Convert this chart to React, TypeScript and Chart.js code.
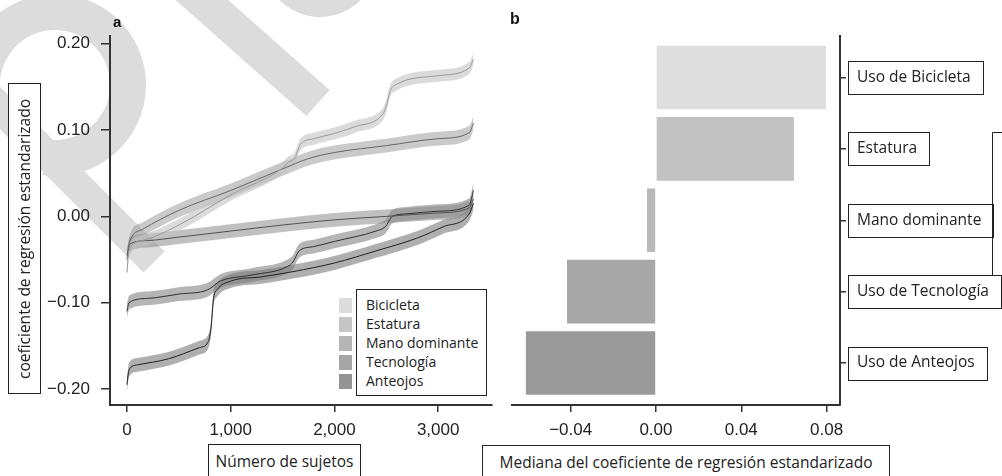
import React, { useEffect, useRef } from "react";
import { Chart, registerables } from "chart.js";

Chart.register(...registerables);

// ---------------- Panel a data ----------------
const seriesNames = ["Bicicleta", "Estatura", "Mano dominante", "Tecnología", "Anteojos"];

const subjBicicleta = [0, 20, 150, 500, 1000, 1500, 1550, 1620, 1670, 1800, 2000, 2200, 2450, 2490, 2540, 2600, 3000, 3300, 3340];
const coefBicicleta = [-0.065, -0.04, -0.028, -0.01, 0.025, 0.056, 0.062, 0.068, 0.083, 0.09, 0.096, 0.104, 0.116, 0.124, 0.146, 0.153, 0.163, 0.172, 0.182];

const subjEstatura = [0, 25, 150, 500, 1000, 1500, 1750, 2000, 2500, 3000, 3300, 3340];
const coefEstatura = [-0.05, -0.03, -0.015, 0.007, 0.03, 0.055, 0.067, 0.074, 0.082, 0.09, 0.097, 0.108];

const subjMano = [0, 30, 200, 500, 1000, 1500, 2000, 2500, 3000, 3300, 3340];
const coefMano = [-0.045, -0.032, -0.028, -0.024, -0.017, -0.01, -0.004, 0.0, 0.004, 0.01, 0.02];

const subjTecnologia = [0, 20, 200, 500, 780, 900, 1200, 1550, 1600, 1660, 1800, 2000, 2400, 2490, 2560, 2700, 3000, 3300, 3340];
const coefTecnologia = [-0.11, -0.1, -0.095, -0.09, -0.085, -0.075, -0.068, -0.058, -0.053, -0.04, -0.035, -0.029, -0.017, -0.012, 0.0, 0.003, 0.006, 0.013, 0.03];

const subjAnteojos = [0, 20, 100, 400, 700, 780, 810, 835, 870, 1000, 1300, 1600, 2000, 2400, 2800, 3050, 3300, 3340];
const coefAnteojos = [-0.195, -0.178, -0.172, -0.165, -0.152, -0.146, -0.13, -0.095, -0.085, -0.075, -0.07, -0.064, -0.054, -0.04, -0.025, -0.012, 0.003, 0.015];

const bandHalfWidth = [0.007, 0.008, 0.008, 0.008, 0.008];

const xTicksA = [0, 1000, 2000, 3000];
const xTickLabelsA = ["0", "1,000", "2,000", "3,000"];
const yTicksA = [-0.2, -0.1, 0, 0.1, 0.2];
const yTickLabelsA = ["−0.20", "−0.10", "0.00", "0.10", "0.20"];

// ---------------- Panel b data ----------------
const factorsB = ["Uso de Bicicleta", "Estatura", "Mano dominante", "Uso de Tecnología", "Uso de Anteojos"];
const medianCoefB = [0.0797, 0.0647, -0.0042, -0.0417, -0.061];
const xTicksB = [-0.04, 0, 0.04, 0.08];
const xTickLabelsB = ["−0.04", "0.00", "0.04", "0.08"];

// ---------------- styles ----------------
const bandColors = [
  "rgba(195,195,195,0.6)",
  "rgba(150,150,150,0.5)",
  "rgba(140,140,140,0.55)",
  "rgba(120,120,120,0.55)",
  "rgba(110,110,110,0.55)",
];
const lineColors = ["#9a9a9a", "#666666", "#505050", "#303030", "#202020"];
const legendColors = ["#dcdcdc", "#c6c6c6", "#b5b5b5", "#a5a5a5", "#939393"];
const barColors = ["#dedede", "#c2c2c2", "#b9b9b9", "#a7a7a7", "#9a9a9a"];

const TICK_FONT = { family: '"Liberation Sans", Arial, sans-serif', size: 17 };
const LABEL_FAMILY = '"Open Sans", sans-serif';
const AXIS_COLOR = "#333";

const watermarkPlugin = {
  id: "watermark",
  beforeDraw(chart: any) {
    const ctx = chart.ctx;
    ctx.save();
    ctx.strokeStyle = "#dcdcdc";
    ctx.lineCap = "butt";
    // bowl
    ctx.lineWidth = 36;
    ctx.beginPath();
    ctx.arc(55, 85, 73, (172 * Math.PI) / 180, (98 * Math.PI) / 180, false);
    ctx.stroke();
    // stem
    ctx.lineWidth = 30;
    ctx.beginPath();
    ctx.moveTo(-60, 48);
    ctx.lineTo(154, 262);
    ctx.stroke();
    // diagonal bar
    ctx.lineWidth = 35;
    ctx.beginPath();
    ctx.moveTo(185, -15);
    ctx.lineTo(318, 103);
    ctx.stroke();
    // top arc
    ctx.lineWidth = 24;
    ctx.beginPath();
    ctx.arc(320, -40, 45, (30 * Math.PI) / 180, (150 * Math.PI) / 180, false);
    ctx.stroke();
    ctx.restore();
  },
};

const labelBoxPlugin = {
  id: "labelBoxes",
  afterDraw(chart: any) {
    const ctx = chart.ctx;
    const ys = chart.scales.y;
    ctx.save();
    ctx.font = `15.5px ${LABEL_FAMILY}`;
    ctx.strokeStyle = "#222";
    ctx.lineWidth = 1;
    const tops: number[] = [];
    ys.ticks.forEach((t: any) => {
      const py = ys.getPixelForValue(t.value);
      const label = factorsB[t.value];
      const w = ctx.measureText(label).width;
      const top = Math.round(py - 16.5) + 0.5;
      tops.push(top);
      ctx.strokeRect(Math.round(ys.left + 8) + 0.5, top, Math.round(w + 21), 33);
    });
    // bracket on the right
    const bx = Math.round(ys.left + 152) + 0.5;
    ctx.beginPath();
    ctx.moveTo(chart.width, tops[1]);
    ctx.lineTo(bx, tops[1]);
    ctx.lineTo(bx, tops[3]);
    ctx.stroke();
    ctx.restore();
  },
};

function gridOpts(len: number) {
  return {
    display: true,
    drawOnChartArea: false,
    drawTicks: true,
    tickLength: len,
    color: AXIS_COLOR,
    lineWidth: 1.5,
    offset: false,
  };
}

export default function App() {
  const refA = useRef<HTMLCanvasElement>(null);
  const refB = useRef<HTMLCanvasElement>(null);

  useEffect(() => {
    const subjects = [subjBicicleta, subjEstatura, subjMano, subjTecnologia, subjAnteojos];
    const coefs = [coefBicicleta, coefEstatura, coefMano, coefTecnologia, coefAnteojos];

    const lineSets: any[] = [];
    const bandSets: any[] = [];
    subjects.forEach((xs, i) => {
      const ys = coefs[i];
      const h = bandHalfWidth[i];
      lineSets.push({
        label: seriesNames[i],
        data: xs.map((x, k) => ({ x, y: ys[k] })),
        borderColor: lineColors[i],
        borderWidth: 1,
        pointRadius: 0,
        fill: false,
        cubicInterpolationMode: "monotone",
      });
      bandSets.push({
        label: seriesNames[i] + " low",
        data: xs.map((x, k) => ({ x, y: ys[k] - h })),
        borderWidth: 0,
        borderColor: "rgba(0,0,0,0)",
        pointRadius: 0,
        fill: false,
        cubicInterpolationMode: "monotone",
      });
      bandSets.push({
        label: seriesNames[i] + " high",
        data: xs.map((x, k) => ({ x, y: ys[k] + h })),
        borderWidth: 0,
        borderColor: "rgba(0,0,0,0)",
        backgroundColor: bandColors[i],
        pointRadius: 0,
        fill: "-1",
        cubicInterpolationMode: "monotone",
      });
    });

    const chartA = new Chart(refA.current as HTMLCanvasElement, {
      type: "line",
      data: { datasets: [...lineSets, ...bandSets] },
      plugins: [watermarkPlugin],
      options: {
        animation: false,
        responsive: false,
        maintainAspectRatio: false,
        devicePixelRatio: 1,
        events: [],
        layout: { padding: { left: 0, top: 36, right: 8, bottom: 0 } },
        plugins: { legend: { display: false }, tooltip: { enabled: false } },
        scales: {
          x: {
            type: "linear",
            min: -163,
            max: 3519,
            afterBuildTicks: (s: any) => {
              s.ticks = xTicksA.map((v) => ({ value: v }));
            },
            afterFit: (s: any) => {
              s.height = 71;
            },
            ticks: {
              font: TICK_FONT,
              color: "#222",
              padding: 8,
              maxRotation: 0,
              autoSkip: false,
              callback: (v: any) => xTickLabelsA[xTicksA.indexOf(v)] ?? "",
            },
            grid: gridOpts(7),
            border: { display: true, color: AXIS_COLOR, width: 2 },
          },
          y: {
            type: "linear",
            min: -0.2185,
            max: 0.209,
            afterBuildTicks: (s: any) => {
              s.ticks = yTicksA.map((v) => ({ value: v }));
            },
            afterFit: (s: any) => {
              s.width = 110;
            },
            ticks: {
              font: TICK_FONT,
              color: "#222",
              padding: 11,
              autoSkip: false,
              callback: (v: any) => {
                const idx = yTicksA.findIndex((t) => Math.abs(t - v) < 1e-9);
                return idx >= 0 ? yTickLabelsA[idx] : "";
              },
            },
            grid: gridOpts(9),
            border: { display: true, color: AXIS_COLOR, width: 2 },
          },
        },
      } as any,
    });

    const chartB = new Chart(refB.current as HTMLCanvasElement, {
      type: "bar",
      data: {
        datasets: [
          {
            label: "Mediana",
            data: medianCoefB.map((v, i) => ({ x: v, y: i })),
            backgroundColor: barColors,
            borderWidth: 0,
            barPercentage: 0.89,
            categoryPercentage: 1,
          },
        ],
      },
      plugins: [labelBoxPlugin],
      options: {
        indexAxis: "y",
        animation: false,
        responsive: false,
        maintainAspectRatio: false,
        devicePixelRatio: 1,
        events: [],
        layout: { padding: { left: 12, top: 36, right: 0, bottom: 0 } },
        plugins: { legend: { display: false }, tooltip: { enabled: false } },
        scales: {
          x: {
            type: "linear",
            min: -0.0675,
            max: 0.0863,
            offset: false,
            afterBuildTicks: (s: any) => {
              s.ticks = xTicksB.map((v) => ({ value: v }));
            },
            afterFit: (s: any) => {
              s.height = 71;
            },
            ticks: {
              font: TICK_FONT,
              color: "#222",
              padding: 8,
              maxRotation: 0,
              autoSkip: false,
              callback: (v: any) => {
                const idx = xTicksB.findIndex((t) => Math.abs(t - v) < 1e-9);
                return idx >= 0 ? xTickLabelsB[idx] : "";
              },
            },
            grid: gridOpts(7),
            border: { display: true, color: AXIS_COLOR, width: 2 },
          },
          y: {
            type: "linear",
            position: "right",
            reverse: true,
            min: -0.581,
            max: 4.588,
            offset: false,
            afterBuildTicks: (s: any) => {
              s.ticks = factorsB.map((_, i) => ({ value: i }));
            },
            afterFit: (s: any) => {
              s.width = 162;
            },
            ticks: {
              font: { family: LABEL_FAMILY, size: 15.5 },
              color: "#222",
              padding: 11,
              autoSkip: false,
              callback: (v: any) => factorsB[v] ?? "",
            },
            grid: gridOpts(6),
            border: { display: true, color: AXIS_COLOR, width: 2 },
          },
        },
      } as any,
    });

    return () => {
      chartA.destroy();
      chartB.destroy();
    };
  }, []);

  const boxText: React.CSSProperties = {
    position: "absolute",
    boxSizing: "border-box",
    border: "1px solid #222",
    background: "#fff",
    fontFamily: LABEL_FAMILY,
    fontSize: "15.5px",
    color: "#222",
    display: "flex",
    alignItems: "center",
    justifyContent: "center",
    whiteSpace: "nowrap",
  };

  return (
    <div style={{ position: "absolute", left: 0, top: 0, width: 1002, height: 476, overflow: "hidden", background: "#fff" }}>
      <canvas ref={refA} width={500} height={476} style={{ position: "absolute", left: 0, top: 0, width: 500, height: 476 }} />
      <canvas ref={refB} width={502} height={476} style={{ position: "absolute", left: 500, top: 0, width: 502, height: 476 }} />

      <div style={{ position: "absolute", left: 113, top: 14, font: 'bold 15px "Liberation Sans", Arial, sans-serif', lineHeight: "15px", color: "#111" }}>a</div>
      <div style={{ position: "absolute", left: 510, top: 11, font: 'bold 16px "Liberation Sans", Arial, sans-serif', lineHeight: "16px", color: "#111" }}>b</div>

      <div style={{ ...boxText, left: 8, top: 83, width: 33, height: 311, writingMode: "vertical-rl", transform: "rotate(180deg)" }}>
        coeficiente de regresión estandarizado
      </div>
      <div style={{ ...boxText, left: 208, top: 444, width: 153, height: 33 }}>Número de sujetos</div>
      <div style={{ ...boxText, left: 482, top: 445, width: 408, height: 33 }}>
        Mediana del coeficiente de regresión estandarizado
      </div>

      {seriesNames.map((n, i) => (
        <div
          key={n}
          style={{ position: "absolute", left: 339, top: 298 + 19 * i, width: 13, height: 15, background: legendColors[i] }}
        />
      ))}
      <div
        style={{
          position: "absolute",
          left: 356,
          top: 289,
          width: 131,
          height: 107,
          boxSizing: "border-box",
          border: "1px solid #222",
          background: "#fff",
          paddingLeft: 9,
          paddingTop: 5,
          fontFamily: LABEL_FAMILY,
          fontSize: "14px",
          lineHeight: "19px",
          color: "#222",
          whiteSpace: "nowrap",
        }}
      >
        {seriesNames.map((n) => (
          <div key={n}>{n}</div>
        ))}
      </div>
    </div>
  );
}
